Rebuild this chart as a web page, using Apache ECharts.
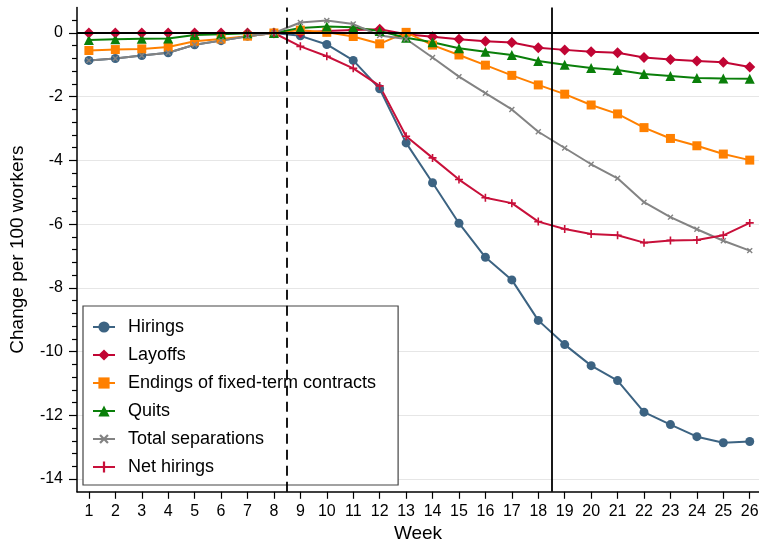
<!DOCTYPE html>
<html>
<head>
<meta charset="utf-8">
<script src="https://cdn.jsdelivr.net/npm/echarts@6/dist/echarts.min.js"></script>
<style>
html,body{margin:0;padding:0;background:#fff;}
#chart{width:759px;height:540px;}
</style>
</head>
<body>
<div id="chart"></div>
<script>
const weeks = [1,2,3,4,5,6,7,8,9,10,11,12,13,14,15,16,17,18,19,20,21,22,23,24,25,26];
const hirings = [-0.86,-0.80,-0.71,-0.62,-0.37,-0.24,-0.10,0,-0.09,-0.36,-0.86,-1.75,-3.45,-4.70,-5.97,-7.04,-7.75,-9.02,-9.78,-10.44,-10.91,-11.90,-12.29,-12.67,-12.86,-12.82];
const layoffs = [0,0,0,0,0,0,0,0,0.01,0.06,0.09,0.12,-0.04,-0.12,-0.20,-0.26,-0.30,-0.46,-0.53,-0.59,-0.62,-0.77,-0.83,-0.88,-0.92,-1.07];
const endings = [-0.55,-0.52,-0.50,-0.44,-0.26,-0.19,-0.10,0,0.09,0.02,-0.11,-0.34,0.02,-0.38,-0.69,-1.01,-1.33,-1.63,-1.92,-2.26,-2.54,-2.97,-3.31,-3.54,-3.80,-3.99];
const quits = [-0.22,-0.20,-0.18,-0.17,-0.06,-0.04,-0.01,0,0.16,0.20,0.18,0.06,-0.15,-0.29,-0.48,-0.59,-0.69,-0.88,-1.00,-1.10,-1.16,-1.29,-1.35,-1.41,-1.43,-1.44];
const totalSep = [-0.86,-0.80,-0.71,-0.62,-0.37,-0.24,-0.10,0,0.33,0.39,0.28,-0.08,-0.19,-0.77,-1.37,-1.89,-2.40,-3.10,-3.61,-4.12,-4.56,-5.31,-5.78,-6.16,-6.52,-6.83];
const netHirings = [0,0,0,0,0,0,0,0,-0.42,-0.73,-1.11,-1.66,-3.24,-3.92,-4.60,-5.17,-5.34,-5.92,-6.15,-6.31,-6.35,-6.58,-6.51,-6.50,-6.35,-5.96];

const seriesNames = ['Hirings','Layoffs','Endings of fixed-term contracts','Quits','Total separations','Net hirings'];
const yMajorTicks = [-14,-12,-10,-8,-6,-4,-2,0];
const yMinorTicks = [-13.6,-13.2,-12.8,-12.4,-11.6,-11.2,-10.8,-10.4,-9.6,-9.2,-8.8,-8.4,-7.6,-7.2,-6.8,-6.4,-5.6,-5.2,-4.8,-4.4,-3.6,-3.2,-2.8,-2.4,-1.6,-1.2,-0.8,-0.4,0.4];
const vLineDashed = 8.5;
const vLineSolid = 18.5;
const hLineZero = 0;

const FONT = "'Liberation Sans', Arial, Helvetica, sans-serif";
const plusPath = 'path://M4,0H6V4H10V6H6V10H4V6H0V4H4Z';

function pairs(vals){ return weeks.map((w,i)=>[w, vals[i]]); }

function mkSeries(name, vals, color, symbol, size, extra){
  return Object.assign({
    name: name,
    type: 'line',
    data: pairs(vals),
    symbol: symbol,
    symbolSize: size,
    lineStyle: {color: color, width: 2},
    itemStyle: {color: color},
    emphasis: {disabled: true},
    z: 3
  }, extra || {});
}

const chart = echarts.init(document.getElementById('chart'), null, {renderer: 'canvas'});
chart.setOption({
  animation: false,
  backgroundColor: '#fff',
  grid: {left: 77, right: 0, top: 7.5, bottom: 48.2, containLabel: false, outerBoundsMode: 'none'},
  xAxis: {
    type: 'value', min: 0.55, max: 26.35,
    axisLine: {show: true, onZero: false, lineStyle: {color: '#000', width: 1.5}},
    axisTick: {show: true, length: 7, lineStyle: {color: '#000', width: 1.2}, customValues: weeks},
    axisLabel: {customValues: weeks, color: '#000', fontSize: 16, fontFamily: FONT, margin: 12},
    splitLine: {show: false},
    name: 'Week', nameLocation: 'middle', nameGap: 31,
    nameTextStyle: {color: '#000', fontSize: 19, fontFamily: FONT}
  },
  yAxis: [{
    type: 'value', min: -14.4, max: 0.8,
    axisLine: {show: true, onZero: false, lineStyle: {color: '#000', width: 1.5}},
    axisTick: {show: true, length: 8, lineStyle: {color: '#000', width: 1.2}, customValues: yMajorTicks},
    axisLabel: {customValues: yMajorTicks, color: '#000', fontSize: 16, fontFamily: FONT, margin: 14},
    splitLine: {show: true, lineStyle: {color: '#e6e6e6', width: 1}},
    name: 'Change per 100 workers', nameLocation: 'middle', nameGap: 50,
    nameTextStyle: {color: '#000', fontSize: 19, fontFamily: FONT}
  },{
    type: 'value', min: -14.4, max: 0.8, position: 'left', offset: 0,
    axisLine: {show: false},
    axisTick: {show: true, length: 5, lineStyle: {color: '#000', width: 1.2}, customValues: yMinorTicks},
    axisLabel: {show: false},
    splitLine: {show: false}
  }],
  legend: {
    orient: 'vertical', left: 83, top: 306,
    data: seriesNames,
    itemWidth: 22, itemHeight: 14, itemGap: 10,
    padding: [12, 22, 9, 9],
    borderColor: '#444', borderWidth: 1.2, backgroundColor: '#fff',
    textStyle: {color: '#000', fontSize: 18, fontFamily: FONT, padding: [0,0,0,8]},
    selectedMode: false
  },
  series: [
    {
      name: 'refs', type: 'line', data: [], z: 1, silent: true,
      markLine: {
        silent: true, symbol: 'none', label: {show: false}, animation: false,
        data: [
          {xAxis: vLineDashed, lineStyle: {color: '#000', width: 1.8, type: [10, 6]}},
          {xAxis: vLineSolid, lineStyle: {color: '#000', width: 1.8, type: 'solid'}},
          {yAxis: hLineZero, lineStyle: {color: '#000', width: 1.8, type: 'solid'}}
        ]
      }
    },
    mkSeries(seriesNames[0], hirings, '#3c6382', 'circle', 9),
    mkSeries(seriesNames[1], layoffs, '#c10534', 'diamond', 11),
    mkSeries(seriesNames[2], endings, '#ff8000', 'rect', 9),
    mkSeries(seriesNames[3], quits, '#0a7f0a', 'triangle', 10),
    mkSeries(seriesNames[4], totalSep, '#838383', plusPath, 7, {symbolRotate: 45}),
    mkSeries(seriesNames[5], netHirings, '#c8103a', plusPath, 8)
  ]
});
</script>
</body>
</html>
